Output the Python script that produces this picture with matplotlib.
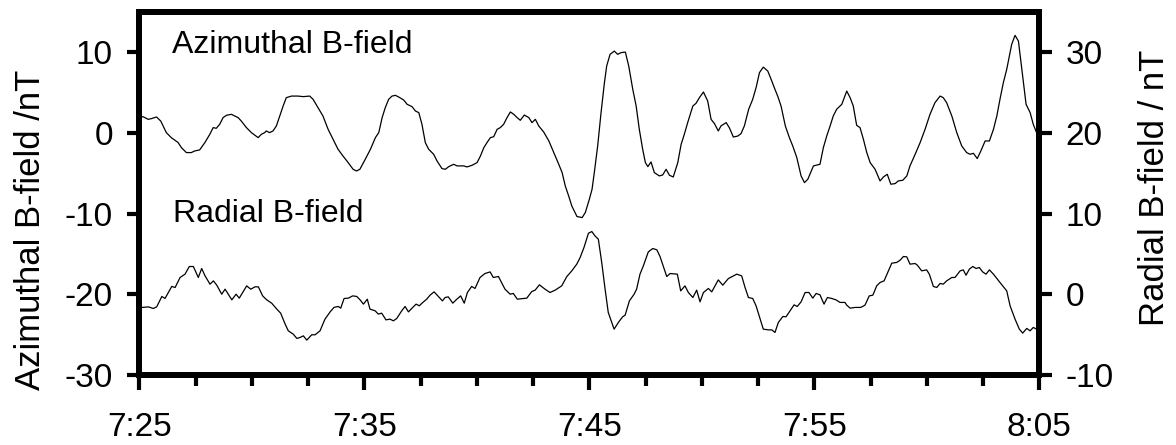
import matplotlib
matplotlib.use("Agg")
import matplotlib.pyplot as plt
from matplotlib.ticker import FixedLocator, MultipleLocator

plt.rcParams['font.family'] = ['Liberation Sans', 'DejaVu Sans']
plt.rcParams['axes.unicode_minus'] = False

# time in minutes after 7:25
az_t = [0.0, 0.16, 0.39, 0.53, 0.76, 0.95, 1.2, 1.42, 1.72, 1.87, 2.09, 2.31, 2.46, 2.68, 2.91,
        3.13, 3.28, 3.42, 3.57, 3.72, 3.87, 4.09, 4.24, 4.39, 4.53, 4.76, 4.98, 5.28, 5.42, 5.57,
        5.64, 5.79, 5.94, 6.09, 6.24, 6.39, 6.53, 6.76, 7.05, 7.28, 7.57, 7.72, 7.94, 8.16, 8.39,
        8.61, 8.83, 9.05, 9.28, 9.5, 9.65, 9.8, 10.04, 10.27, 10.49, 10.64, 10.79, 10.93, 11.08,
        11.23, 11.38, 11.53, 11.75, 11.9, 12.12, 12.27, 12.42, 12.56, 12.71, 12.86, 13.08, 13.23,
        13.45, 13.6, 13.75, 13.97, 14.12, 14.27, 14.42, 14.56, 14.79, 15.01, 15.16, 15.31, 15.45,
        15.6, 15.75, 15.9, 16.04, 16.19, 16.34, 16.49, 16.64, 16.79, 16.93, 17.11, 17.31, 17.45,
        17.6, 17.75, 17.97, 18.2, 18.42, 18.64, 18.79, 18.93, 19.08, 19.22, 19.45, 19.68, 19.82,
        20.0, 20.12, 20.22, 20.37, 20.52, 20.67, 20.77, 20.92, 21.11, 21.26, 21.41, 21.6, 21.75,
        21.93, 22.08, 22.22, 22.37, 22.49, 22.6, 22.74, 22.89, 23.11, 23.26, 23.41, 23.56, 23.73,
        23.93, 24.08, 24.22, 24.37, 24.6, 24.74, 24.89, 25.07, 25.26, 25.41, 25.56, 25.73, 25.85,
        26.08, 26.22, 26.4, 26.6, 26.74, 26.89, 27.08, 27.26, 27.41, 27.56, 27.73, 27.93, 28.08,
        28.22, 28.37, 28.52, 28.71, 28.89, 29.04, 29.22, 29.41, 29.56, 29.71, 29.96, 30.25, 30.4,
        30.55, 30.7, 30.84, 30.99, 31.22, 31.44, 31.59, 31.73, 31.88, 32.03, 32.18, 32.33, 32.48,
        32.7, 32.92, 33.07, 33.24, 33.4, 33.59, 33.73, 33.93, 34.11, 34.25, 34.48, 34.7, 34.92,
        35.14, 35.36, 35.59, 35.73, 35.88, 36.11, 36.33, 36.55, 36.77, 36.92, 37.07, 37.24, 37.4,
        37.59, 37.78, 37.96, 38.11, 38.25, 38.4, 38.55, 38.7, 38.77, 38.92, 39.07, 39.22, 39.41,
        39.59, 39.73, 39.88, 40.0]
az_b = [1.9, 2.0, 1.67, 1.75, 1.96, 1.46, 0.02, -0.6, -1.2, -1.84, -2.45, -2.45, -2.25, -2.12, -1.22,
        -0.19, 0.64, 0.56, 1.05, 1.88, 2.17, 2.29, 2.08, 1.88, 1.46, 0.64, 0.02, -0.6, -0.19, 0.02,
        0.23, 0.02, 0.23, 0.85, 2.08, 3.32, 4.35, 4.55, 4.55, 4.48, 4.55, 4.15, 3.12, 2.08, 0.43,
        -0.8, -2.04, -2.87, -3.69, -4.52, -4.73, -4.52, -3.28, -2.04, -0.6, 0.02, 1.88, 3.12, 4.15,
        4.55, 4.64, 4.43, 4.06, 3.53, 3.24, 2.7, 2.5, 1.05, -1.22, -2.04, -2.66, -3.49,
        -4.43, -4.52, -4.19, -3.9, -4.1, -4.1, -4.1, -4.23, -4.02, -3.69, -2.87, -1.84, -1.22,
        -0.6, -0.48, 0.43, 0.64, 1.05, 1.88, 2.58, 2.29, 1.88, 1.55, 2.2, 1.88, 1.26,
        1.67, 0.85, 0.1, -1.01, -2.45, -3.9, -4.93, -6.58, -7.82, -9.06, -10.37, -10.5, -9.88,
        -8.23, -6.99, -4.93, -1.63, 2.5, 6.21, 8.27, 9.72, 10.12, 9.72, 9.93, 10.0, 8.27,
        5.38, 3.32, 0.43, -2.04, -3.69, -4.19, -3.61, -4.93, -5.34, -5.22, -4.52, -5.26, -5.47,
        -3.69, -1.42, -0.19, 1.26, 3.32, 3.65, 4.35, 5.05, 3.94, 1.67, 1.14, 0.23, 0.85,
        1.26, 0.64, -0.52, -0.4, -0.1, 0.85, 2.91, 4.15, 5.59, 7.45, 8.14, 7.65, 6.62,
        5.59, 4.55, 3.32, 0.85, -0.6, -1.63, -3.07, -5.34, -6.17, -5.75, -4.1, -3.9, -1.84,
        -0.4, 0.85, 2.08, 2.91, 3.53, 5.17, 4.35, 3.32, 0.93, 0.64, -0.8, -2.45, -3.69,
        -4.52, -5.96, -5.47, -5.14, -6.37, -6.29, -5.96, -5.88, -5.34, -4.1, -2.66, -1.22, 0.43,
        2.29, 3.73, 4.55, 4.35, 3.73, 2.08, 0.02, -1.63, -2.45, -2.66, -2.54, -3.19, -2.25,
        -1.01, -1.01, 0.43, 2.08, 4.15, 6.21, 7.86, 9.93, 10.95, 12.07, 11.36, 7.86, 3.53,
        2.5, 1.05, 0.0, -1.3]

rad_t = [0.0, 0.15, 0.4, 0.62, 0.77, 1.0, 1.14, 1.29, 1.44, 1.59, 1.81, 2.03, 2.22, 2.4, 2.62,
         2.77, 2.92, 3.14, 3.29, 3.44, 3.66, 3.81, 4.11, 4.3, 4.44, 4.77, 4.95, 5.14, 5.29, 5.48,
         5.66, 5.88, 6.11, 6.28, 6.48, 6.62, 6.84, 7.0, 7.14, 7.29, 7.44, 7.66, 7.81, 8.03, 8.25,
         8.48, 8.65, 8.84, 8.95, 9.1, 9.29, 9.48, 9.66, 9.81, 9.96, 10.13, 10.25, 10.48, 10.62,
         10.77, 10.96, 11.14, 11.29, 11.44, 11.66, 11.81, 11.96, 12.15, 12.3, 12.44, 12.6, 12.77,
         12.92, 13.1, 13.29, 13.47, 13.59, 13.73, 13.93, 14.11, 14.28, 14.44, 14.58, 14.77, 14.92,
         15.14, 15.36, 15.59, 15.73, 15.96, 16.25, 16.48, 16.62, 16.8, 17.22, 17.44, 17.59, 17.78,
         18.03, 18.25, 18.48, 18.77, 19.0, 19.22, 19.44, 19.59, 19.76, 19.96, 20.11, 20.25, 20.4,
         20.55, 20.7, 20.84, 21.1, 21.29, 21.48, 21.59, 21.78, 21.99, 22.1, 22.25, 22.4, 22.62,
         22.82, 23.0, 23.14, 23.29, 23.44, 23.59, 23.91, 24.06, 24.25, 24.4, 24.6, 24.77, 24.92,
         25.07, 25.29, 25.44, 25.73, 25.93, 26.18, 26.55, 26.77, 26.92, 27.07, 27.26, 27.41, 27.59,
         27.73, 27.96, 28.11, 28.25, 28.4, 28.6, 28.74, 28.92, 29.1, 29.24, 29.41, 29.59, 29.76,
         29.93, 30.08, 30.25, 30.43, 30.58, 30.77, 30.96, 31.14, 31.36, 31.44, 31.59, 31.81, 32.06,
         32.25, 32.44, 32.6, 32.77, 32.92, 33.1, 33.29, 33.44, 33.66, 33.81, 33.96, 34.11, 34.25,
         34.48, 34.58, 34.77, 34.99, 35.11, 35.29, 35.44, 35.59, 35.73, 35.88, 36.11, 36.25, 36.48,
         36.62, 36.74, 36.89, 37.04, 37.19, 37.33, 37.48, 37.63, 37.78, 37.96, 38.25, 38.55, 38.7,
         38.92, 39.11, 39.26, 39.44, 39.59, 39.73, 39.88, 40.0]
rad_b = [-1.6, -1.63, -1.56, -1.76, -1.56, -0.27, -0.52, 0.22, 0.97, 0.84, 2.08, 2.49, 3.44, 3.44, 2.08,
         3.19, 2.28, 1.25, 1.66, 1.13, 0.01, 0.63, -0.69, 0.01, -0.48, 1.04, 0.63, 0.92, 0.92, -0.2,
         -0.69, -1.1, -1.84, -2.34, -3.7, -4.53, -4.94, -5.47, -5.35, -5.15, -5.68, -5.02, -5.02, -4.53, -3.08,
         -2.18, -1.63, -1.51, -1.72, -0.52, -0.48, -0.2, -0.27, -0.69, -1.22, -0.61, -1.84, -2.05, -2.46,
         -2.34, -3.17, -3.08, -3.29, -3.0, -2.05, -1.51, -2.18, -1.63, -1.22, -1.43, -1.01, -0.61,
         -0.11, 0.3, -0.27, -0.82, -0.4, -0.32, -1.1, -0.61, -0.2, -1.1, 0.22, 0.97, 0.72,
         2.08, 2.57, 2.77, 2.08, 2.2, 0.63, 0.01, 0.1, -0.61, -0.48, 0.34, 0.51, 1.17,
         0.63, 0.22, 0.51, 1.04, 2.2, 2.9, 3.73, 4.55, 5.79, 7.56, 7.77, 7.23, 6.82,
         3.93, 0.63, -2.25, -4.32, -3.49, -2.79, -2.59, -0.82, 0.01, 0.63, 2.49, 3.52, 5.25,
         5.67, 5.5, 4.68, 3.44, 2.2, 2.57, 2.49, 0.42, 1.04, 0.22, -0.4, 0.51, -0.94,
         0.22, 0.72, 0.3, 1.78, 1.13, 1.95, 2.49, 2.28, 0.84, -0.4, -0.52, -1.43, -3.08,
         -4.32, -4.41, -4.41, -4.73, -3.49, -2.75, -2.79, -2.05, -1.31, -1.51, -0.94, 0.22, 0.22,
         -0.48, 0.1, -0.07, -1.22, -0.4, -0.52, -0.69, -1.01, -1.01, -1.35, -1.72, -1.63, -1.63,
         -1.35, -0.2, -0.11, 1.04, 1.46, 1.66, 2.9, 3.85, 3.94, 4.22, 4.68, 4.63, 3.73,
         3.81, 3.6, 2.9, 3.02, 2.49, 0.97, 0.84, 1.34, 1.25, 1.66, 2.08, 2.08, 2.9,
         3.02, 2.36, 3.11, 3.44, 3.19, 3.32, 2.77, 2.49, 3.02, 2.49, 1.46, 0.42, -1.43,
         -3.08, -4.32, -4.81, -4.23, -4.53, -4.11, -4.32, -3.91]

x_major = [0, 10, 20, 30, 40]
x_labels = ['7:25', '7:35', '7:45', '7:55', '8:05']

fs = 24
fig = plt.figure(figsize=(11.76, 4.45), dpi=100)
ax = fig.add_axes([0.1185, 0.1573, 0.7653, 0.8164])
ax2 = ax.twinx()

ax.plot(az_t, az_b, color='black', lw=0.9)
ax2.plot(rad_t, rad_b, color='black', lw=0.9)

ax.set_xlim(0, 40)
ax.set_ylim(-30, 15)
ax2.set_ylim(-10, 35)

ax.xaxis.set_major_locator(FixedLocator(x_major))
ax.set_xticklabels(x_labels)
ax.xaxis.set_minor_locator(MultipleLocator(2.5))
ax.set_yticks([-30, -20, -10, 0, 10])
ax2.set_yticks([-10, 0, 10, 20, 30])

for a in (ax, ax2):
    for s in a.spines.values():
        s.set_linewidth(4.3)
    a.tick_params(which='major', direction='out', length=9, width=3, labelsize=fs, pad=10)
ax.tick_params(axis='x', which='major', length=10.5, pad=16)
ax.tick_params(axis='x', which='minor', direction='out', length=8, width=3)

ax.set_ylabel('Azimuthal B-field /nT', fontsize=25)
ax.yaxis.set_label_coords(-0.103, 0.40)
ax2.set_ylabel('Radial B-field / nT', fontsize=25)
ax2.yaxis.set_label_coords(1.11, 0.515)

ax.text(1.44, 9.9, 'Azimuthal B-field', fontsize=23, va='baseline', ha='left')
ax.text(1.5, -11.0, 'Radial B-field', fontsize=23, va='baseline', ha='left')

fig.savefig('out.png', dpi=100)
